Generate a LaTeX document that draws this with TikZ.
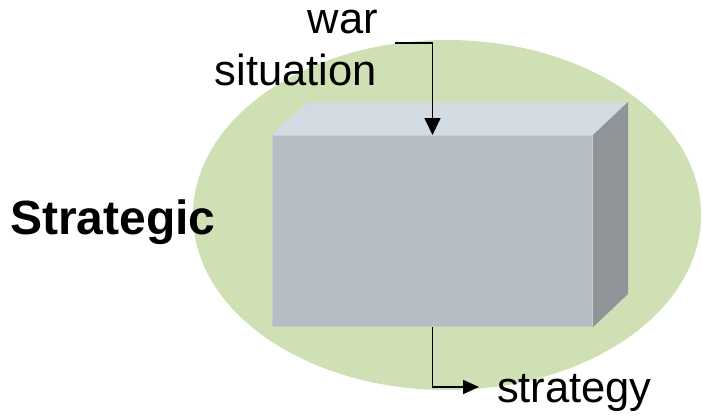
\documentclass[tikz,border=0pt]{standalone}
\usepackage{fontspec}
\setmainfont{Liberation Sans}
\usetikzlibrary{arrows.meta}
\definecolor{ellgreen}{HTML}{CEE0B4}
\definecolor{boxtop}{HTML}{D3DBE2}
\definecolor{boxfront}{HTML}{B7BDC5}
\definecolor{boxside}{HTML}{8F9499}
\definecolor{boxedge}{HTML}{C9CFD6}
\tikzset{
  lbl/.style={inner sep=0pt, outer sep=0pt, anchor=base, font=\fontsize{43.5}{50}\selectfont},
  flowarrow/.style={draw=black, line width=1.7pt, -{Triangle[width=16pt,length=17pt]}},
}
\begin{document}
\begin{tikzpicture}[x=1pt,y=-1pt]
\useasboundingbox (0,0) rectangle (702,418);
% ellipse
\fill[ellgreen] (447,215) ellipse [x radius=254, y radius=175];
% box faces
\fill[boxtop] (272,135) -- (307,102) -- (628,102) -- (593,135) -- cycle;
\fill[boxside] (593,135) -- (628,102) -- (628,294) -- (593,327) -- cycle;
\node[draw=none, fill=boxfront, minimum width=321pt, minimum height=192pt, inner sep=0pt, outer sep=0pt, anchor=north west] (front) at (272,135) {};
\draw[boxedge, line width=1.2pt] (272.6,135.6) -- (592.4,135.6) -- (592.4,326.4);
\draw[boxedge!70!boxfront, line width=1pt] (272.5,135.6) -- (272.5,326.5) -- (592.4,326.5);
% texts
\node[lbl, anchor=base east] (war) at (378,33) {war};
\node[lbl, anchor=base east] (sit) at (377,85) {situation};
\node[lbl, anchor=base west, font=\fontsize{48}{55}\selectfont\bfseries] (strat) at (10,234) {Strategic};
\node[lbl, anchor=base west, font=\fontsize{43.5}{50}\selectfont] (strgy) at (497,402) {strategy};
% arrows
\coordinate (inStart) at (395,43);
\coordinate (outEnd) at (479,387);
\draw[flowarrow] (inStart) -| (front.north);
\draw[flowarrow, -{Triangle[width=14pt,length=16pt]}] (front.south) |- (outEnd);
\end{tikzpicture}
\end{document}
